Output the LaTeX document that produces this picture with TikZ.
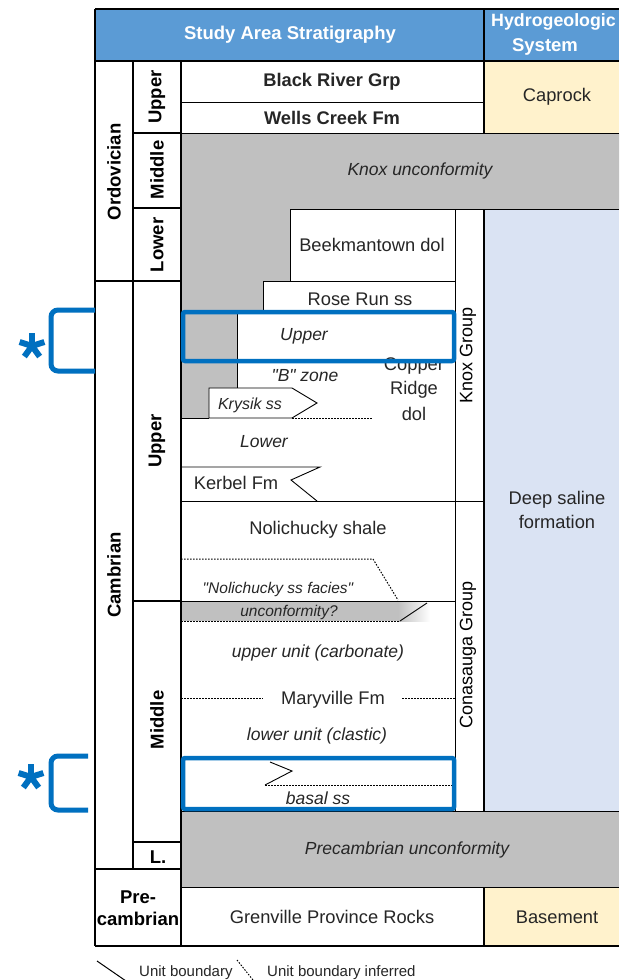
\documentclass[tikz,border=0pt]{standalone}
\usepackage{fontspec}
\setmainfont{Liberation Sans}[Ligatures=TeXOff]
\usetikzlibrary{calc}
\definecolor{hdrblue}{HTML}{5B9BD5}
\definecolor{capyellow}{HTML}{FFF2CC}
\definecolor{salblue}{HTML}{DAE3F3}
\definecolor{unconfgray}{HTML}{C0C0C0}
\definecolor{hiblue}{HTML}{0070C0}
\definecolor{txtgray}{HTML}{262626}
\newcommand{\fsz}[1]{\fontsize{#1}{#1}\selectfont}
\begin{document}
\begin{tikzpicture}[x=1pt,y=-1pt,
  thickline/.style={line width=1.8pt},
  thinline/.style={line width=0.9pt},
  dotline/.style={line width=1pt, dash pattern=on 1.5pt off 1.5pt},
  lbl/.style={text=txtgray, font=\fsz{18.3}, inner sep=0pt},
  ital/.style={text=txtgray, font=\fsz{17.5}\itshape, inner sep=0pt},
  smit/.style={text=txtgray, font=\fsz{15.5}\itshape, inner sep=0pt},
  boldlbl/.style={text=txtgray, font=\fsz{18.3}\bfseries, inner sep=0pt},
  epoch/.style={text=black, font=\fsz{18.5}\bfseries, rotate=90, inner sep=0pt},
  grp/.style={text=black, font=\fsz{18}, rotate=90, inner sep=0pt},
  head/.style={text=white, font=\fsz{18.5}\bfseries, inner sep=0pt},
  hibox/.style={draw=hiblue, line width=4.5pt, rounded corners=2pt},
  brk/.style={draw=hiblue, line width=5pt, rounded corners=7pt},
  astarm/.style={draw=hiblue, line width=6pt},
  legtxt/.style={text=txtgray, font=\fsz{15}, inner sep=0pt, anchor=west},
]
\useasboundingbox (0,0) rectangle (619,980);
\fill[white] (0,0) rectangle (619,980);

% ---------- fills ----------
\fill[hdrblue] (95,9) rectangle (619,61);
\fill[capyellow] (484,61) rectangle (619,133);
\fill[salblue] (484,209) rectangle (619,811);
\fill[capyellow] (484,887) rectangle (619,946);
\fill[unconfgray] (181,133) -- (619,133) -- (619,209) -- (290,209) -- (290,281)
  -- (263,281) -- (263,313) -- (237,313) -- (237,388) -- (209,388)
  -- (209,418) -- (181,418) -- cycle;
\fill[unconfgray] (181,811) rectangle (619,887);
% unconformity band with fade
\fill[unconfgray] (181,602) rectangle (398,621);
\shade[left color=unconfgray, right color=white] (398,602) rectangle (430,621);

% ---------- strat inner lines ----------
\draw[thinline] (181,102) -- (484,102);
\draw[thinline] (181,133) -- (619,133);
\draw[thinline] (290,209) -- (619,209);
\draw[thinline] (290,209) -- (290,281) (263,281) -- (455,281);
\draw[thinline] (263,281) -- (263,313) (237,313) -- (455,313);
\draw[thinline] (237,313) -- (237,388);
\draw[thinline] (181,418) -- (209,418);
\draw[thinline] (209,418) -- (209,388) -- (292,388) -- (317,403) -- (292,418) -- (209,418);
\draw[dotline] (237,359) -- (373,359);
\draw[dotline] (292,418) -- (373,418);
\draw[thinline] (181,467) -- (320,467) -- (291,480) -- (317,501);
\draw[thinline] (181,501) -- (484,501);
\draw[dotline] (181,559) -- (373,559) -- (398,600);
\draw[thinline] (181,601) -- (455,601);
\draw[dotline] (181,621) -- (400,621);
\draw[thinline] (400,621) -- (427,603);
\draw[dotline] (181,698) -- (263,698) (402,698) -- (455,698);
\draw[thinline] (270,762) -- (292,771) -- (265,785);
\draw[dotline] (265,785) -- (453,785);
\draw[thinline] (455,209) -- (455,811);
\draw[thinline] (181,811) -- (619,811);
\draw[thinline] (181,887) -- (619,887);

% ---------- main grid ----------
\draw[thickline] (95,9) -- (619,9) (95,61) -- (619,61);
\draw[thickline] (484,9) -- (484,133);
\draw[thickline] (484,209) -- (484,811);
\draw[thickline] (484,887) -- (484,946);
\draw[thickline] (95,9) -- (95,946);
\draw[thickline] (133,61) -- (133,869);
\draw[thickline] (181,61) -- (181,946);
\draw[thickline] (95,281) -- (181,281);
\draw[thickline] (95,869) -- (181,869);
\draw[thickline] (133,133) -- (181,133);
\draw[thickline] (133,208) -- (181,208);
\draw[thickline] (133,601) -- (181,601);
\draw[thickline] (133,842) -- (181,842);
\draw[thickline] (95,946) -- (619,946);

% ---------- header ----------
\node[head] (h1) at (290,35) {Study Area Stratigraphy};
\node[head, font=\fsz{17.8}\bfseries, anchor=west] (h2) at (491,22) {Hydrogeologic};
\node[head] (h3) at (545,47) {System};

% ---------- left columns ----------
\node[epoch] (ord) at (114,172) {Ordovician};
\node[epoch] (cam) at (114,575) {Cambrian};
\node[epoch] (ou) at (157,97) {Upper};
\node[epoch] (om) at (157,170) {Middle};
\node[epoch] (ol) at (157,245) {Lower};
\node[epoch] (cu) at (157,441) {Upper};
\node[epoch] (cm) at (157,720) {Middle};
\node[text=black, font=\fsz{18.5}\bfseries, inner sep=0pt] (cl) at (158,857) {L.};
\node[text=black, font=\fsz{18.5}\bfseries, inner sep=0pt, align=center] (pc) at (138,908) {Pre-\\[4pt]cambrian};

% ---------- strat labels ----------
\node[boldlbl] (brg) at (332,82) {Black River Grp};
\node[boldlbl] (wcf) at (332,118) {Wells Creek Fm};
\node[ital] (knu) at (420,171) {Knox unconformity};
\node[lbl] (bkd) at (372,245) {Beekmantown dol};
\node[lbl] (rrs) at (360,299) {Rose Run ss};
\node[ital] (cup) at (304,336) {Upper};
\node[ital] (bzn) at (305,376) {"B" zone};
\node[lbl] (cr1) at (414,366) {Copper};
\node[lbl] (cr2) at (414,390) {Ridge};
\node[lbl] (cr3) at (414,414) {dol};
\node[text=txtgray, font=\fsz{16}\itshape, inner sep=0pt] (krs) at (250,405) {Krysik ss};
\node[ital] (clw) at (264,442) {Lower};
\node[lbl] (kbf) at (236,483) {Kerbel Fm};
\node[lbl] (nos) at (318,530) {Nolichucky shale};
\node[smit] (nsf) at (278,589) {"Nolichucky ss facies"};
\node[smit] (unc) at (289,612) {unconformity?};
\node[ital] (uuc) at (318,653) {upper unit (carbonate)};
\node[lbl] (mvf) at (333,700) {Maryville Fm};
\node[ital] (luc) at (317,736) {lower unit (clastic)};
\node[ital] (bss) at (318,798) {basal ss};
\node[ital] (pcu) at (407,850) {Precambrian unconformity};
\node[lbl] (gpr) at (332,917) {Grenville Province Rocks};
\node[grp] (kng) at (468,355) {Knox Group};
\node[grp] (cng) at (468,655) {Conasauga Group};

% ---------- hydro labels ----------
\node[lbl] (cpr) at (557,97) {Caprock};
\node[lbl, align=center] (dsf) at (557,510) {Deep saline\\[6pt]formation};
\node[lbl] (bas) at (557,917) {Basement};

% ---------- highlight boxes and brackets ----------
\draw[hibox] (183,312) rectangle (454,361);
\draw[hibox] (183,758) rectangle (454,809);
\coordinate (b1a) at (95,310);
\coordinate (b1b) at (95,371);
\draw[brk] (b1a) -- (51,310) -- (51,371) -- (b1b);
\coordinate (b2a) at (88,756);
\coordinate (b2b) at (88,810);
\draw[brk] (b2a) -- (51,756) -- (51,810) -- (b2b);
\foreach \c in {(32,346),(31,777)}{
  \foreach \a in {90,162,234,306,18}{
    \draw[astarm] \c -- ++(\a:-13);
  }
}

% ---------- legend ----------
\coordinate (l1a) at (97,961);
\coordinate (l1b) at (126,981);
\draw[line width=1pt] (l1a) -- (l1b);
\node[legtxt] (lt1) at (139,973) {Unit boundary};
\coordinate (l2a) at (237,960);
\coordinate (l2b) at (253,980);
\draw[dotline] (l2a) -- (l2b);
\node[legtxt] (lt2) at (267,973) {Unit boundary inferred};
\end{tikzpicture}
\end{document}
